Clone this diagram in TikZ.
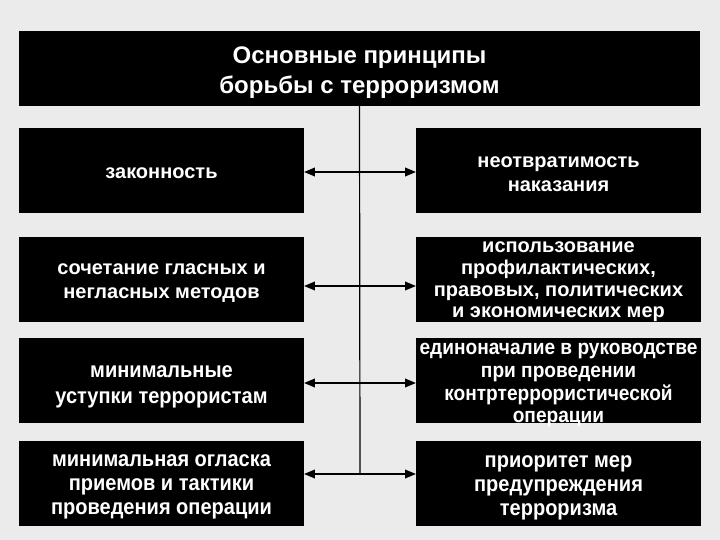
\documentclass[tikz,border=0pt]{standalone}
\usepackage{fontspec}
\setmainfont{Liberation Sans}
\newfontfamily\narrowfont[FakeStretch=0.91]{Liberation Sans}
\usepackage{xcolor}
\usetikzlibrary{arrows}
\definecolor{bggray}{RGB}{235,235,235}
\tikzstyle{box} = [fill=black,text=white,inner sep=0pt,minimum width=285pt,minimum height=85pt,align=center,font=\bfseries\fontsize{20}{24}\selectfont]
\tikzstyle{link} = [line width=1.5pt,<->,>=triangle 45]
% push the text of a node down by #1
\newcommand{\drop}[2]{\raisebox{0pt}[\dimexpr\height+#1+#1\relax]{#2}}
% set height of a first line / depth of a last line
\newcommand{\topline}[2]{\raisebox{0pt}[#1][\depth]{#2}}
\newcommand{\botline}[2]{\raisebox{0pt}[\height][#1]{#2}}

\begin{document}
\begin{tikzpicture}[line cap=round,line join=round,x=1pt,y=-1pt]
    \fill[bggray] (0,0) rectangle (720,540);
    \useasboundingbox (0,0) rectangle (720,540);
    \node[box,minimum width=681pt,minimum height=75pt,font=\bfseries\fontsize{24}{30}\selectfont] (title) at (359.5,68.5) {\drop{4.5pt}{Основные принципы}\\борьбы с терроризмом};
    % left column
    \node[box] (l1) at (161.5,170.5) {\drop{3pt}{законность}};
    \node[box] (l2) at (161.5,279) {\drop{4pt}{сочетание гласных и}\\ негласных методов};
    \node[box,font=\narrowfont\bfseries\fontsize{22}{26}\selectfont] (l3) at (161.5,380.5) {\drop{6pt}{минимальные}\\уступки террористам};
    \node[box,font=\narrowfont\bfseries\fontsize{22}{24}\selectfont] (l4) at (161.5,483) {\drop{4pt}{минимальная огласка}\\приемов и тактики\\проведения операции};
    % right column
    \node[box] (r1) at (558.5,170.5) {\drop{3.5pt}{неотвратимость}\\наказания};
    \node[box,font=\bfseries\fontsize{20}{21.7}\selectfont] (r2) at (558.5,279) {\topline{15.4pt}{использование}\\профилактических,\\правовых, политических\\\botline{3pt}{и экономических мер}};
    \node[box,font=\narrowfont\bfseries\fontsize{21}{22.7}\selectfont] (r3) at (558.5,380.5) {\topline{16.8pt}{единоначалие в руководстве}\\при проведении\\контртеррористической\\\botline{0pt}{операции}};
    \node[box,font=\narrowfont\bfseries\fontsize{22}{24}\selectfont] (r4) at (558.5,483) {\drop{4.5pt}{приоритет мер}\\предупреждения\\терроризма};
    % links
    \coordinate (j4) at (360,474);
    \draw[line width=1.2pt] (title.south) -- (j4);
    \draw[link] ([yshift=-1.5pt]l1.east) -- ([yshift=-1.5pt]r1.west);
    \draw[link] ([yshift=-7pt]l2.east) -- ([yshift=-7pt]r2.west);
    \draw[link] ([yshift=-2.5pt]l3.east) -- ([yshift=-2.5pt]r3.west);
    \draw[link] ([yshift=9pt]l4.east) -- ([yshift=9pt]r4.west);
\end{tikzpicture}
\end{document}
